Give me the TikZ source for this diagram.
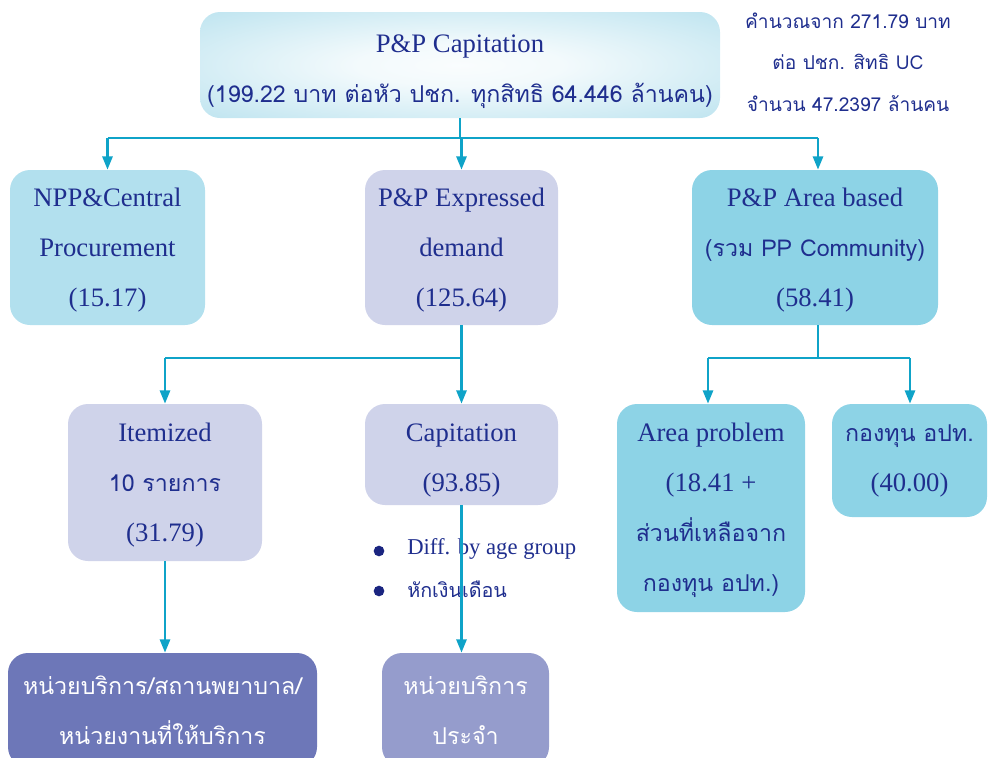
\documentclass[tikz,border=0pt]{standalone}
\usepackage{fontspec}
\setmainfont{Liberation Serif}
\newfontfamily\thai[Script=Thai,Scale=0.87]{Loma}
\usetikzlibrary{arrows.meta}
\definecolor{txt}{HTML}{1F2E8E}
\definecolor{lnk}{HTML}{0FA3C8}
\definecolor{cyanA}{HTML}{B2E0EE}
\definecolor{lav}{HTML}{CFD3EA}
\definecolor{cyanB}{HTML}{8DD3E6}
\definecolor{navyA}{HTML}{6D77B8}
\definecolor{navyB}{HTML}{959CCC}
\definecolor{topblue}{HTML}{A6DAEA}
\definecolor{bul}{HTML}{1A2580}
\newcommand\liftln[1]{\rule{0pt}{#1pt}}
\pgfdeclareradialshading{topglow}{\pgfpoint{0bp}{0bp}}{color(0bp)=(white!94!topblue); color(10bp)=(white!86!topblue); color(48bp)=(topblue); color(100bp)=(topblue)}
\tikzset{
  box/.style={rounded corners=15pt, inner sep=0pt, align=center, text=txt,
    font=\fontsize{20}{37.5}\selectfont},
  conn/.style={draw=lnk, line width=2pt},
  arr/.style={conn, -{Triangle[width=7.5pt,length=10pt]}},
  note/.style={align=center, text=txt, font=\fontsize{16.5}{31}\selectfont},
  bullettxt/.style={anchor=west, text=txt, inner sep=0pt, font=\fontsize{17}{20}\selectfont},
  dot/.style={circle, fill=bul, minimum size=8pt, inner sep=0pt},
}
\begin{document}
\begin{tikzpicture}[x=0.75pt,y=-0.75pt]
\useasboundingbox (0,0) rectangle (988,757);
\clip (0,0) rectangle (988,757);
% top
\node[box, shading=topglow, minimum width=390pt, minimum height=79.5pt] (top) at (460,65)
  {\liftln{23.5}P\&P Capitation\\{\thai (199.22 บาท ต่อหัว ปชก. ทุกสิทธิ 64.446 ล้านคน)}};
\node[note] (calc) at (848,62) {\thai คำนวณจาก 271.79 บาท\\\thai ต่อ ปชก. สิทธิ UC\\\thai จำนวน 47.2397 ล้านคน};
% level 2
\node[box, fill=cyanA, minimum width=146.25pt, minimum height=116.25pt] (npp) at (107.5,247.5)
  {\liftln{18}NPP\&Central\\Procurement\\(15.17)};
\node[box, fill=lav, minimum width=144.75pt, minimum height=116.25pt] (exp) at (461.5,247.5)
  {\liftln{18}P\&P Expressed\\demand\\(125.64)};
\node[box, fill=cyanB, minimum width=184.5pt, minimum height=116.25pt] (area) at (815,247.5)
  {\liftln{18}P\&P Area based\\{\thai (รวม PP Community)}\\(58.41)};
% level 3
\node[box, fill=lav, minimum width=145.5pt, minimum height=117.75pt] (item) at (165,482.5)
  {\liftln{18}Itemized\\{\thai 10 รายการ}\\(31.79)};
\node[box, fill=lav, minimum width=144.75pt, minimum height=75.75pt] (cap) at (461.5,454.5)
  {\liftln{21.5}Capitation\\(93.85)};
\node[box, fill=cyanB, minimum width=141pt, minimum height=156pt] (ap) at (711,508)
  {\liftln{17}Area problem\\(18.41 +\\{\thai ส่วนที่เหลือจาก}\\{\thai กองทุน อปท.)}};
\node[box, fill=cyanB, minimum width=116.25pt, minimum height=84.75pt] (fund) at (909.5,460.5)
  {{\thai กองทุน อปท.}\\(40.00)};
% bottom
\node[box, fill=navyA, text=white, minimum width=231.75pt, minimum height=85.5pt] (bl) at (162.5,710)
  {\thai หน่วยบริการ/สถานพยาบาล/\\\thai หน่วยงานที่ให้บริการ};
\node[box, fill=navyB, text=white, minimum width=125.25pt, minimum height=85.5pt] (bm) at (465.5,710)
  {\thai หน่วยบริการ\\\thai ประจำ};
% bullets
\node[dot] (d1) at (379,551) {};
\node[dot] (d2) at (379,591) {};
\node[bullettxt] (t1) at (407,549) {Diff. by age group};
\node[bullettxt] (t2) at (407,589) {\thai หักเงินเดือน};
% connectors
\coordinate (j1) at (461,138);
\coordinate (j2) at (461,358);
\coordinate (j3) at (818,358);
\draw[conn] (top.south) -- (top.south |- j1);
\draw[conn] (npp.north |- j1) -- (818,138);
\draw[arr] (npp.north |- j1) -- (npp.north);
\draw[arr] (exp.north |- j1) -- (exp.north);
\draw[arr] (818,138) -- (area.north -| 818,0);
\draw[conn] (exp.south) -- (exp.south |- j2);
\draw[conn] (item.north |- j2) -- (cap.north |- j2);
\draw[arr] (item.north |- j2) -- (item.north);
\draw[arr] (cap.north |- j2) -- (cap.north);
\draw[conn] (area.south -| j3) -- (j3);
\draw[conn] (708,358) -- (910,358);
\draw[arr] (708,358) -- (ap.north -| 708,0);
\draw[arr] (910,358) -- (fund.north -| 910,0);
\draw[arr] (item.south) -- (item.south |- bl.north);
\draw[arr] (cap.south) -- (cap.south |- bm.north);
\end{tikzpicture}
\end{document}
